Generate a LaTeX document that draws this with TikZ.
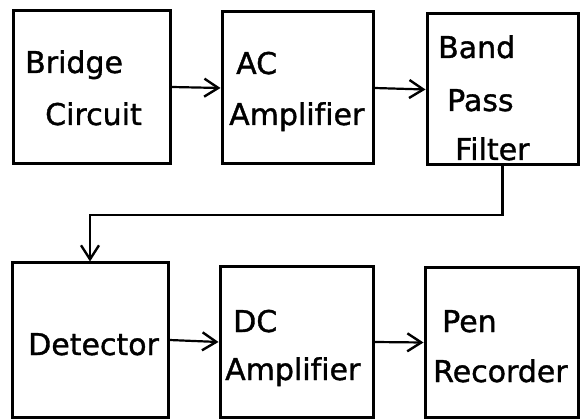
\documentclass[tikz,border=0pt]{standalone}
\usepackage{fontspec}
\setmainfont{DejaVu Sans}[Ligatures=NoCommon, FakeBold=1.2]
\usetikzlibrary{arrows.meta}

\tikzset{
  blockbox/.style={draw, line width=3pt, inner sep=0pt},
  blocktext/.style={anchor=base west, inner sep=0pt, font=\fontsize{30}{36}\selectfont},
  flowarrow/.style={line width=2.2pt, -{Straight Barb[length=14pt, width=18pt, line width=2.4pt]}}
}

\begin{document}
\begin{tikzpicture}[x=1pt, y=-1pt]
    %% picture is 580 x 419, y runs downwards
    \useasboundingbox (0,0) rectangle (580,419);

    % ---- TOP ROW ----
    \node[blockbox, minimum width=157pt, minimum height=153pt] (bridge) at (91.5, 87) {};
    \node[blockbox, minimum width=151pt, minimum height=152pt] (acamp)  at (297.5, 88) {};
    \node[blockbox, minimum width=151pt, minimum height=151pt] (bpf)    at (502.5, 89.5) {};
    % labels
    \node[blocktext] (bridgeA) at (25, 73)  {Bridge};
    \node[blocktext] (bridgeB) at (45, 125) {Circuit};
    \node[blocktext] (acampA)  at (236, 74) {AC};
    \node[blocktext] (acampB)  at (229, 125) {Amplifier};
    \node[blocktext] (bpfA)    at (438, 58)  {Band};
    \node[blocktext] (bpfB)    at (447, 111) {Pass};
    \node[blocktext] (bpfC)    at (455, 160) {Filter};

    % ---- BOTTOM ROW ----
    \node[blockbox, minimum width=156pt, minimum height=154pt] (det)   at (90, 340) {};
    \node[blockbox, minimum width=153pt, minimum height=150pt] (dcamp) at (296.5, 342) {};
    \node[blockbox, minimum width=153pt, minimum height=149pt] (pen)   at (501.5, 342.5) {};
    % labels
    \node[blocktext] (detA)   at (28, 355)  {Detector};
    \node[blocktext] (dcampA) at (233, 332) {DC};
    \node[blocktext] (dcampB) at (225, 380) {Amplifier};
    \node[blocktext] (penA)   at (442, 332) {Pen};
    \node[blocktext] (penB)   at (433, 382) {Recorder};

    % ---- CONNECTORS ----
    \draw[flowarrow] (bridge.east) -- (acamp.west);
    \draw[flowarrow] (acamp.east) -- (bpf.west);
    \coordinate (turn) at (90, 215);
    \draw[flowarrow] (bpf.south) |- (turn) -- (det.north);
    \draw[flowarrow] (det.east) -- (dcamp.west);
    \draw[flowarrow] (dcamp.east) -- (pen.west);

  \end{tikzpicture}
\end{document}
